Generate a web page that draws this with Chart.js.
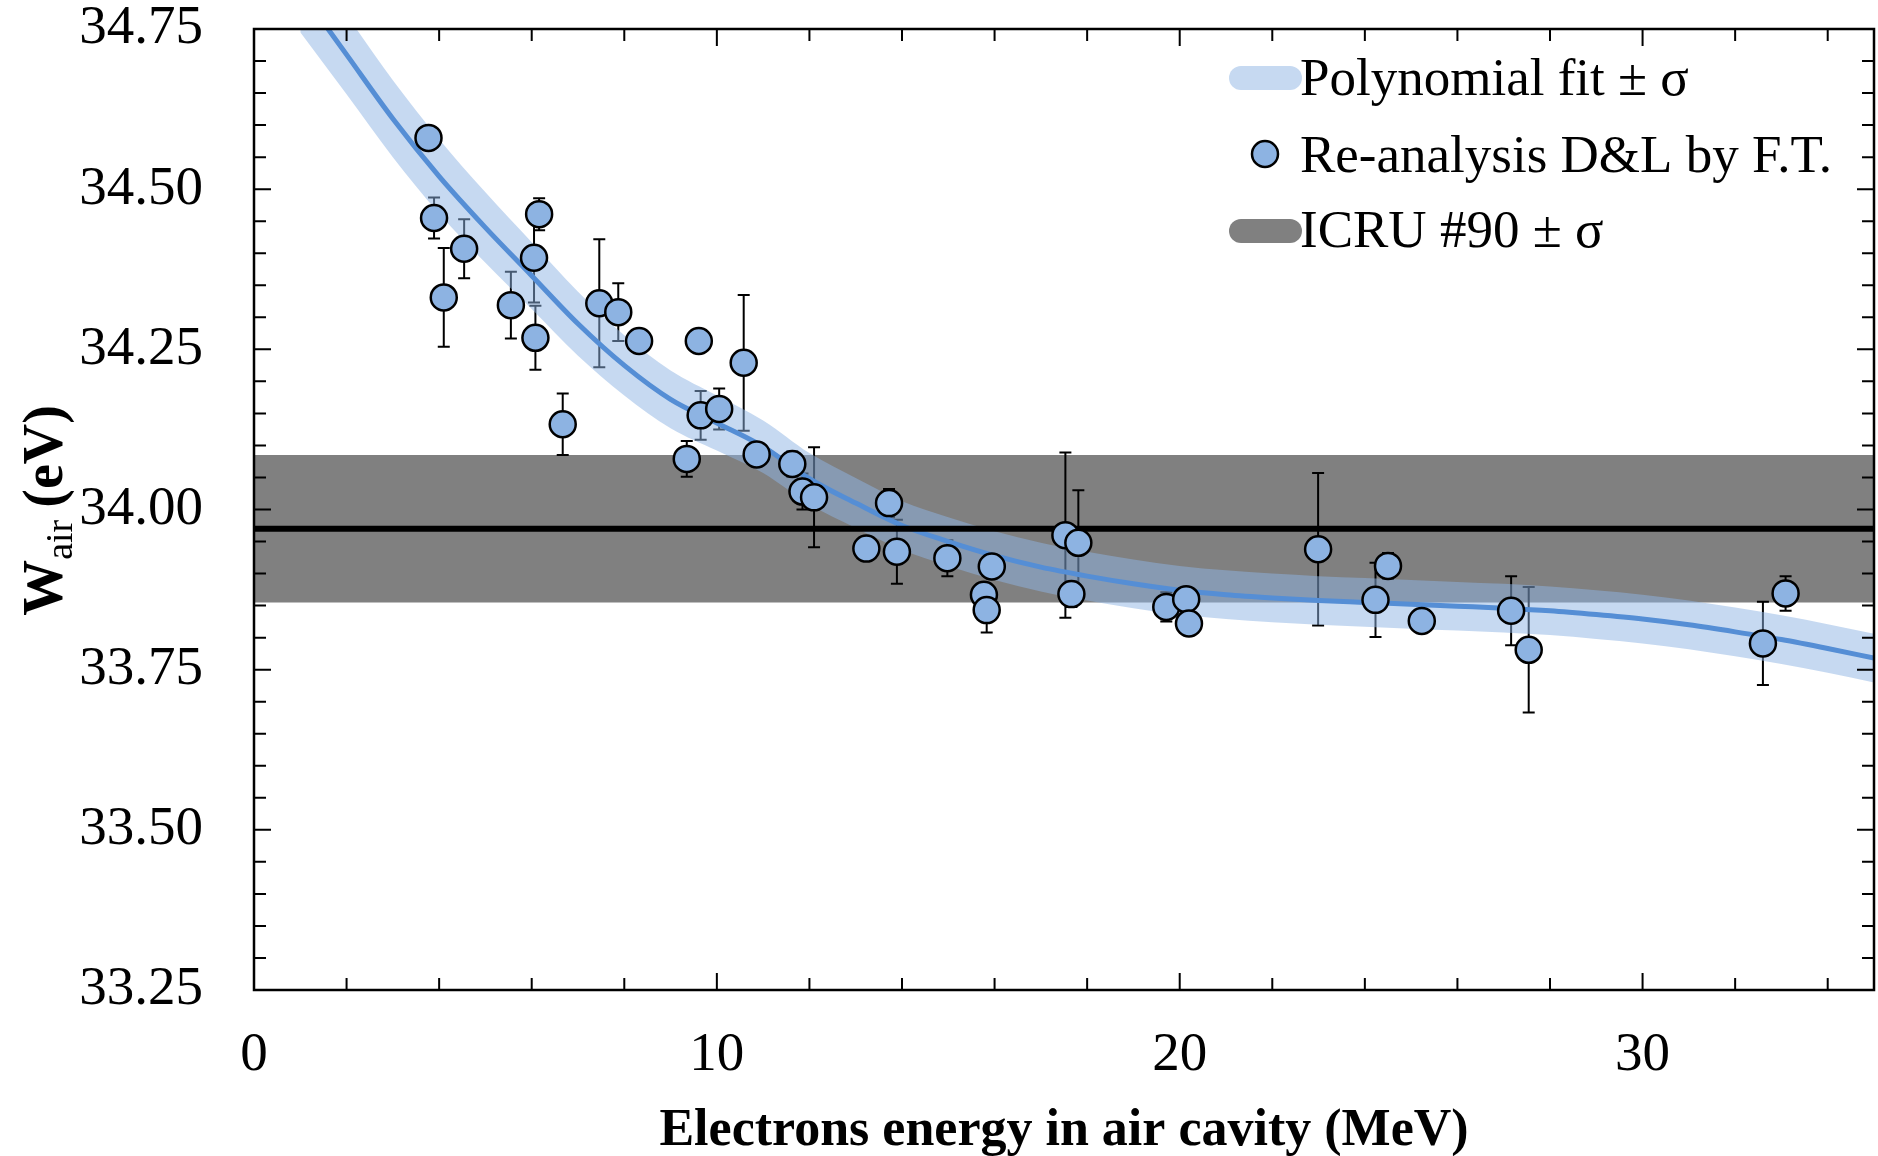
<!DOCTYPE html>
<html><head><meta charset="utf-8">
<script src="https://cdn.jsdelivr.net/npm/chart.js@4.4.0/dist/chart.umd.min.js"></script>
<style>html,body{margin:0;padding:0;background:#fff;}canvas{display:block;}</style>
</head><body>
<canvas id="c" width="1878" height="1156"></canvas>
<script>
// ---- data ----
const energies   = [3.77, 3.89, 4.10, 4.54, 5.55, 6.16, 6.05, 6.08, 6.67, 7.46, 7.87, 8.32, 9.61, 10.58, 9.35, 9.65, 10.05, 10.86, 11.63, 11.85, 12.10, 13.23, 13.72, 13.89, 14.98, 15.94, 15.77, 15.83, 17.53, 17.81, 17.66, 19.71, 20.14, 20.20, 22.99, 24.23, 24.50, 25.23, 27.16, 27.54, 32.60, 33.09];
const wairValues = [34.580, 34.455, 34.331, 34.407, 34.319, 34.461, 34.393, 34.268, 34.133, 34.322, 34.308, 34.263, 34.263, 34.229, 34.079, 34.147, 34.157, 34.086, 34.071, 34.028, 34.019, 33.939, 34.010, 33.934, 33.924, 33.911, 33.867, 33.843, 33.960, 33.948, 33.868, 33.848, 33.860, 33.822, 33.938, 33.859, 33.912, 33.826, 33.842, 33.781, 33.791, 33.869];
const wairErrors = [0, 0.032, 0.077, 0.046, 0.052, 0.025, 0.070, 0.050, 0.048, 0.100, 0.045, 0, 0, 0.106, 0.028, 0.038, 0.032, 0, 0.020, 0.028, 0.078, 0, 0.022, 0.050, 0.028, 0, 0, 0.035, 0.129, 0.082, 0.020, 0.023, 0, 0, 0.119, 0.058, 0.020, 0, 0.054, 0.098, 0.065, 0.027];

const fitEnergies = [1, 2, 3, 4, 5, 6, 7, 8, 9, 10, 11, 12, 13, 14, 15, 16, 17, 18, 19, 20, 21, 22, 23, 24, 25, 26, 27, 28, 29, 30, 31, 32, 33, 34, 35];
const fitValues   = [34.81, 34.71, 34.61, 34.52, 34.44, 34.365, 34.29, 34.225, 34.172, 34.135, 34.098, 34.048, 34.010, 33.975, 33.950, 33.928, 33.910, 33.896, 33.884, 33.874, 33.867, 33.862, 33.858, 33.855, 33.852, 33.849, 33.846, 33.842, 33.836, 33.829, 33.820, 33.809, 33.797, 33.783, 33.768];
const fitSigmas   = [0.065, 0.062, 0.060, 0.058, 0.055, 0.052, 0.050, 0.047, 0.045, 0.043, 0.041, 0.040, 0.039, 0.038, 0.038, 0.038, 0.038, 0.038, 0.038, 0.038, 0.038, 0.038, 0.038, 0.038, 0.038, 0.038, 0.038, 0.038, 0.038, 0.038, 0.038, 0.038, 0.038, 0.038, 0.038];

const icruValue = 33.97;
const icruSigma = 0.115;

const xMajorTicks = [0, 10, 20, 30];
const yMajorTicks = [33.25, 33.50, 33.75, 34.00, 34.25, 34.50, 34.75];
const xRange = [0, 35];
const yRange = [33.25, 34.75];
const xMinorStep = 2;
const yMinorStep = 0.05;

const legendLabels = ['Polynomial fit \u00B1 \u03C3', 'Re-analysis D&L by F.T.', 'ICRU #90 \u00B1 \u03C3'];
const xTitle = 'Electrons energy in air cavity (MeV)';
const yTitleMain = 'W', yTitleSub = 'air', yTitleUnit = '(eV)';

// ---- styles ----
const SERIF = '"Liberation Serif", "Times New Roman", serif';
const POINT_FILL = '#8db3e2';
const FIT_LINE = '#558ed5';
const FIT_BAND = 'rgba(141,179,227,0.5)';
const FIT_SWATCH = '#c6d9f1';
const ICRU_BAND = '#808080';

const ICRU_UPPER_INDEX = 5;

const errorBarPlugin = {
  id: 'errorBars',
  afterDatasetDraw(chart, args) {
    if (args.index !== ICRU_UPPER_INDEX) return;
    const ctx = chart.ctx, xs = chart.scales.x, ys = chart.scales.y, a = chart.chartArea;
    ctx.save();
    ctx.beginPath(); ctx.rect(a.left, a.top, a.right - a.left, a.bottom - a.top); ctx.clip();
    ctx.strokeStyle = '#000'; ctx.lineWidth = 2;
    energies.forEach((e, i) => {
      const err = wairErrors[i];
      if (!err) return;
      const x = xs.getPixelForValue(e);
      const y1 = ys.getPixelForValue(wairValues[i] + err);
      const y2 = ys.getPixelForValue(wairValues[i] - err);
      ctx.beginPath();
      ctx.moveTo(x, y1); ctx.lineTo(x, y2);
      ctx.moveTo(x - 6, y1); ctx.lineTo(x + 6, y1);
      ctx.moveTo(x - 6, y2); ctx.lineTo(x + 6, y2);
      ctx.stroke();
    });
    ctx.restore();
  }
};

const framePlugin = {
  id: 'frame',
  afterDatasetsDraw(chart) {
    const ctx = chart.ctx, xs = chart.scales.x, ys = chart.scales.y, a = chart.chartArea;
    ctx.save();
    ctx.strokeStyle = '#000';
    ctx.lineWidth = 2;
    ctx.beginPath();
    const nx = Math.round((xRange[1] - xRange[0]) / xMinorStep);
    for (let k = 0; k <= nx; k++) {
      const v = xRange[0] + k * xMinorStep;
      const major = xMajorTicks.some(t => Math.abs(t - v) < 1e-9) || v % 10 === 0;
      const len = major ? 17 : 12;
      const x = xs.getPixelForValue(v);
      ctx.moveTo(x, a.bottom); ctx.lineTo(x, a.bottom - len);
      ctx.moveTo(x, a.top); ctx.lineTo(x, a.top + len);
    }
    const ny = Math.round((yRange[1] - yRange[0]) / yMinorStep);
    for (let k = 0; k <= ny; k++) {
      const v = yRange[0] + k * yMinorStep;
      const major = yMajorTicks.some(t => Math.abs(t - v) < 1e-6);
      const len = major ? 17 : 12;
      const y = ys.getPixelForValue(v);
      ctx.moveTo(a.left, y); ctx.lineTo(a.left + len, y);
      ctx.moveTo(a.right, y); ctx.lineTo(a.right - len, y);
    }
    ctx.stroke();
    ctx.lineWidth = 2.5;
    ctx.strokeRect(a.left, a.top, a.right - a.left, a.bottom - a.top);
    ctx.restore();
  }
};

function roundRect(ctx, x, y, w, h, r) {
  ctx.beginPath();
  ctx.moveTo(x + r, y);
  ctx.lineTo(x + w - r, y);
  ctx.arc(x + w - r, y + r, r, -Math.PI / 2, Math.PI / 2);
  ctx.lineTo(x + r, y + h);
  ctx.arc(x + r, y + r, r, Math.PI / 2, 3 * Math.PI / 2);
  ctx.closePath();
}

const decorPlugin = {
  id: 'decor',
  afterDraw(chart) {
    const ctx = chart.ctx, a = chart.chartArea;
    ctx.save();
    ctx.fillStyle = '#000';
    // x title
    ctx.font = 'bold 52px ' + SERIF;
    ctx.textAlign = 'center';
    ctx.textBaseline = 'alphabetic';
    ctx.fillText(xTitle, (a.left + a.right) / 2, 1145);
    // y title (rotated)
    ctx.save();
    ctx.translate(62, (a.top + a.bottom) / 2 + 1);
    ctx.rotate(-Math.PI / 2);
    ctx.textAlign = 'left';
    const fMain = 'bold 56px ' + SERIF, fSub = '38px ' + SERIF;
    ctx.font = fMain; const wW = ctx.measureText(yTitleMain).width;
    ctx.font = fSub; const wS = ctx.measureText(yTitleSub).width;
    ctx.font = fMain; const wU = ctx.measureText(yTitleUnit).width;
    const gap = 12;
    const total = wW + wS + gap + wU;
    let x0 = -total / 2;
    ctx.font = fMain; ctx.fillText(yTitleMain, x0, 0); x0 += wW;
    ctx.font = fSub; ctx.fillText(yTitleSub, x0, 10); x0 += wS + gap;
    ctx.font = fMain; ctx.fillText(yTitleUnit, x0, 0);
    ctx.restore();
    // legend
    const textX = 1300;
    const baselines = [95, 172, 247];
    ctx.font = '53px ' + SERIF;
    ctx.textAlign = 'left';
    ctx.fillStyle = FIT_SWATCH;
    roundRect(ctx, 1229, 66, 73, 24, 12); ctx.fill();
    ctx.beginPath(); ctx.arc(1265, 154, 13, 0, Math.PI * 2);
    ctx.fillStyle = POINT_FILL; ctx.fill();
    ctx.lineWidth = 2.5; ctx.strokeStyle = '#000'; ctx.stroke();
    ctx.fillStyle = ICRU_BAND;
    roundRect(ctx, 1229, 219, 73, 24, 12); ctx.fill();
    ctx.fillStyle = '#000';
    legendLabels.forEach((t, i) => ctx.fillText(t, textX, baselines[i]));
    ctx.restore();
  }
};

const fitUpper = fitEnergies.map((e, i) => ({ x: e, y: fitValues[i] + fitSigmas[i] }));
const fitLower = fitEnergies.map((e, i) => ({ x: e, y: fitValues[i] - fitSigmas[i] }));
const fitCenter = fitEnergies.map((e, i) => ({ x: e, y: fitValues[i] }));
const points = energies.map((e, i) => ({ x: e, y: wairValues[i] }));

const tickFont = { family: SERIF, size: 55 };

new Chart(document.getElementById('c'), {
  type: 'line',
  data: {
    datasets: [
      { label: legendLabels[1], data: points, showLine: false, pointRadius: 13, pointHoverRadius: 13,
        pointBackgroundColor: POINT_FILL, pointBorderColor: '#000', pointBorderWidth: 2.5, fill: false },
      { label: 'ICRU #90', data: [{ x: xRange[0], y: icruValue }, { x: xRange[1], y: icruValue }],
        borderColor: '#000', borderWidth: 6, pointRadius: 0, fill: false },
      { label: 'Polynomial fit', data: fitCenter, borderColor: FIT_LINE, borderWidth: 5, pointRadius: 0,
        cubicInterpolationMode: 'monotone', fill: false },
      { label: 'fit + sigma', data: fitUpper, borderColor: 'rgba(0,0,0,0)', borderWidth: 0, pointRadius: 0,
        cubicInterpolationMode: 'monotone', fill: '+1', backgroundColor: FIT_BAND },
      { label: 'fit - sigma', data: fitLower, borderColor: 'rgba(0,0,0,0)', borderWidth: 0, pointRadius: 0,
        cubicInterpolationMode: 'monotone', fill: false },
      { label: 'ICRU + sigma', data: [{ x: xRange[0], y: icruValue + icruSigma }, { x: xRange[1], y: icruValue + icruSigma }],
        borderColor: 'rgba(0,0,0,0)', borderWidth: 0, pointRadius: 0, fill: '+1', backgroundColor: ICRU_BAND },
      { label: 'ICRU - sigma', data: [{ x: xRange[0], y: icruValue - icruSigma }, { x: xRange[1], y: icruValue - icruSigma }],
        borderColor: 'rgba(0,0,0,0)', borderWidth: 0, pointRadius: 0, fill: false }
    ]
  },
  options: {
    responsive: false,
    animation: false,
    devicePixelRatio: 1,
    events: [],
    layout: { autoPadding: false, padding: { top: 29, right: 4, left: 0, bottom: 0 } },
    plugins: { legend: { display: false }, tooltip: { enabled: false } },
    scales: {
      x: {
        type: 'linear', min: xRange[0], max: xRange[1],
        grid: { display: false, drawTicks: false },
        border: { display: false },
        ticks: { font: tickFont, color: '#000', padding: 33, maxRotation: 0, callback: v => String(v) },
        afterBuildTicks: s => { s.ticks = xMajorTicks.map(v => ({ value: v })); },
        afterFit: s => { s.height = 166; s.paddingLeft = 0; s.paddingRight = 0; }
      },
      y: {
        type: 'linear', min: yRange[0], max: yRange[1],
        grid: { display: false, drawTicks: false },
        border: { display: false },
        ticks: { font: tickFont, color: '#000', padding: 51, callback: v => Number(v).toFixed(2) },
        afterBuildTicks: s => { s.ticks = yMajorTicks.map(v => ({ value: v })); },
        afterFit: s => { s.width = 254; s.paddingTop = 0; s.paddingBottom = 0; }
      }
    }
  },
  plugins: [errorBarPlugin, framePlugin, decorPlugin]
});
</script>
</body></html>
